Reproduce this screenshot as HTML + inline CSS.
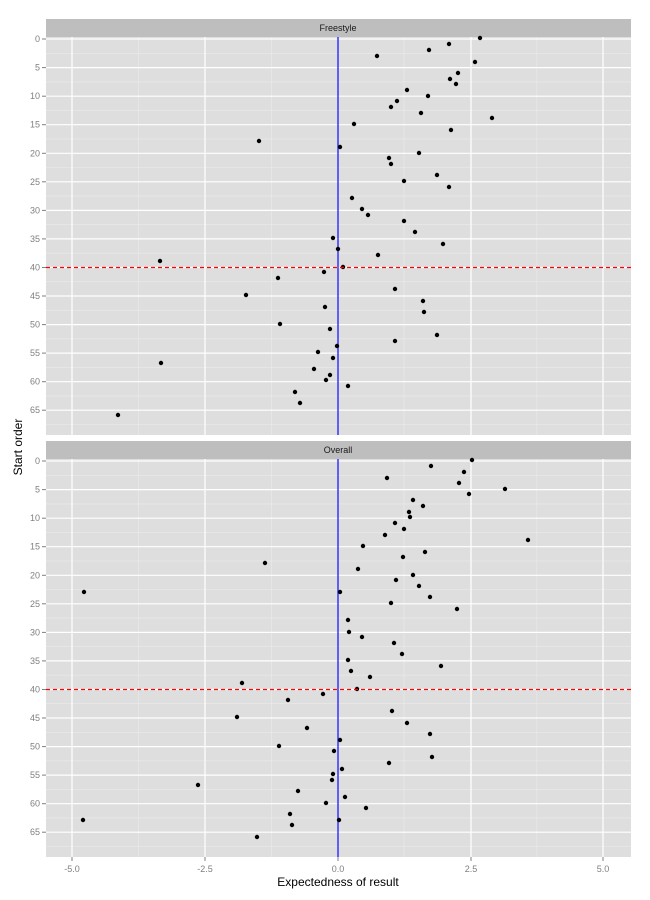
<!DOCTYPE html>
<html><head><meta charset="utf-8"><style>body{margin:0;background:#fff}svg{display:block}text{font-family:"Liberation Sans",sans-serif}</style></head><body>
<svg width="650" height="900" xmlns="http://www.w3.org/2000/svg">
<defs>
<g id="grid">
<rect x="46" y="0" width="585" height="398" fill="#dedede"/>
<g stroke="#ebebeb" stroke-width="0.6">
<line x1="46" x2="631" y1="16.3" y2="16.3"/><line x1="46" x2="631" y1="44.9" y2="44.9"/><line x1="46" x2="631" y1="73.4" y2="73.4"/><line x1="46" x2="631" y1="102" y2="102"/><line x1="46" x2="631" y1="130.5" y2="130.5"/><line x1="46" x2="631" y1="159.1" y2="159.1"/><line x1="46" x2="631" y1="187.6" y2="187.6"/><line x1="46" x2="631" y1="216.2" y2="216.2"/><line x1="46" x2="631" y1="244.7" y2="244.7"/><line x1="46" x2="631" y1="273.3" y2="273.3"/><line x1="46" x2="631" y1="301.8" y2="301.8"/><line x1="46" x2="631" y1="330.4" y2="330.4"/><line x1="46" x2="631" y1="358.9" y2="358.9"/><line x1="46" x2="631" y1="387.5" y2="387.5"/>
<line y1="0" y2="398" x1="138.5" x2="138.5"/><line y1="0" y2="398" x1="271.3" x2="271.3"/><line y1="0" y2="398" x1="404" x2="404"/><line y1="0" y2="398" x1="536.8" x2="536.8"/>
</g>
<g stroke="#fff" stroke-width="1.2">
<line x1="46" x2="631" y1="2" y2="2"/><line x1="46" x2="631" y1="30.6" y2="30.6"/><line x1="46" x2="631" y1="59.2" y2="59.2"/><line x1="46" x2="631" y1="87.7" y2="87.7"/><line x1="46" x2="631" y1="116.3" y2="116.3"/><line x1="46" x2="631" y1="144.8" y2="144.8"/><line x1="46" x2="631" y1="173.4" y2="173.4"/><line x1="46" x2="631" y1="201.9" y2="201.9"/><line x1="46" x2="631" y1="230.5" y2="230.5"/><line x1="46" x2="631" y1="259" y2="259"/><line x1="46" x2="631" y1="287.6" y2="287.6"/><line x1="46" x2="631" y1="316.1" y2="316.1"/><line x1="46" x2="631" y1="344.7" y2="344.7"/><line x1="46" x2="631" y1="373.2" y2="373.2"/>
<line y1="0" y2="398" x1="72" x2="72"/><line y1="0" y2="398" x1="205" x2="205"/><line y1="0" y2="398" x1="338" x2="338"/><line y1="0" y2="398" x1="471" x2="471"/><line y1="0" y2="398" x1="603" x2="603"/>
</g>
<line x1="338" x2="338" y1="0" y2="398" stroke="#3333ff" stroke-width="1.5"/>
<g font-size="9" fill="#7f7f7f" text-anchor="end">
<text x="40" y="5">0</text><text x="40" y="33.6">5</text><text x="40" y="62.2">10</text><text x="40" y="90.7">15</text><text x="40" y="119.3">20</text><text x="40" y="147.8">25</text><text x="40" y="176.4">30</text><text x="40" y="204.9">35</text><text x="40" y="233.5">40</text><text x="40" y="262">45</text><text x="40" y="290.6">50</text><text x="40" y="319.1">55</text><text x="40" y="347.7">60</text><text x="40" y="376.2">65</text>
</g>
<g stroke="#7f7f7f" stroke-width="1">
<line x1="42" x2="46" y1="2" y2="2"/><line x1="42" x2="46" y1="30.6" y2="30.6"/><line x1="42" x2="46" y1="59.2" y2="59.2"/><line x1="42" x2="46" y1="87.7" y2="87.7"/><line x1="42" x2="46" y1="116.3" y2="116.3"/><line x1="42" x2="46" y1="144.8" y2="144.8"/><line x1="42" x2="46" y1="173.4" y2="173.4"/><line x1="42" x2="46" y1="201.9" y2="201.9"/><line x1="42" x2="46" y1="230.5" y2="230.5"/><line x1="42" x2="46" y1="259" y2="259"/><line x1="42" x2="46" y1="287.6" y2="287.6"/><line x1="42" x2="46" y1="316.1" y2="316.1"/><line x1="42" x2="46" y1="344.7" y2="344.7"/><line x1="42" x2="46" y1="373.2" y2="373.2"/>
</g>
</g>
</defs>
<rect x="46" y="19" width="585" height="18" fill="#bebebe"/>
<text x="338" y="31" font-size="9" text-anchor="middle" fill="#1a1a1a">Freestyle</text>
<use href="#grid" transform="translate(0,37)"/>
<rect x="46" y="441" width="585" height="18" fill="#bebebe"/>
<text x="338" y="453" font-size="9" text-anchor="middle" fill="#1a1a1a">Overall</text>
<use href="#grid" transform="translate(0,459)"/>
<g fill="#000">
<circle cx="480" cy="38" r="2.2"/><circle cx="449" cy="44" r="2.2"/><circle cx="429" cy="50" r="2.2"/><circle cx="377" cy="56" r="2.2"/><circle cx="475" cy="62" r="2.2"/><circle cx="458" cy="73" r="2.2"/><circle cx="450" cy="79" r="2.2"/><circle cx="456" cy="84" r="2.2"/><circle cx="407" cy="90" r="2.2"/><circle cx="428" cy="96" r="2.2"/><circle cx="397" cy="101" r="2.2"/><circle cx="391" cy="107" r="2.2"/><circle cx="421" cy="113" r="2.2"/><circle cx="492" cy="118" r="2.2"/><circle cx="354" cy="124" r="2.2"/><circle cx="451" cy="130" r="2.2"/><circle cx="259" cy="141" r="2.2"/><circle cx="340" cy="147" r="2.2"/><circle cx="419" cy="153" r="2.2"/><circle cx="389" cy="158" r="2.2"/><circle cx="391" cy="164" r="2.2"/><circle cx="437" cy="175" r="2.2"/><circle cx="404" cy="181" r="2.2"/><circle cx="449" cy="187" r="2.2"/><circle cx="352" cy="198" r="2.2"/><circle cx="362" cy="209" r="2.2"/><circle cx="368" cy="215" r="2.2"/><circle cx="404" cy="221" r="2.2"/><circle cx="415" cy="232" r="2.2"/><circle cx="333" cy="238" r="2.2"/><circle cx="443" cy="244" r="2.2"/><circle cx="338" cy="249" r="2.2"/><circle cx="378" cy="255" r="2.2"/><circle cx="160" cy="261" r="2.2"/><circle cx="343" cy="267" r="2.2"/><circle cx="324" cy="272" r="2.2"/><circle cx="278" cy="278" r="2.2"/><circle cx="395" cy="289" r="2.2"/><circle cx="246" cy="295" r="2.2"/><circle cx="423" cy="301" r="2.2"/><circle cx="325" cy="307" r="2.2"/><circle cx="424" cy="312" r="2.2"/><circle cx="280" cy="324" r="2.2"/><circle cx="330" cy="329" r="2.2"/><circle cx="437" cy="335" r="2.2"/><circle cx="395" cy="341" r="2.2"/><circle cx="337" cy="346" r="2.2"/><circle cx="318" cy="352" r="2.2"/><circle cx="333" cy="358" r="2.2"/><circle cx="161" cy="363" r="2.2"/><circle cx="314" cy="369" r="2.2"/><circle cx="330" cy="375" r="2.2"/><circle cx="326" cy="380" r="2.2"/><circle cx="348" cy="386" r="2.2"/><circle cx="295" cy="392" r="2.2"/><circle cx="300" cy="403" r="2.2"/><circle cx="118" cy="415" r="2.2"/>
<circle cx="472" cy="460" r="2.2"/><circle cx="431" cy="466" r="2.2"/><circle cx="464" cy="472" r="2.2"/><circle cx="459" cy="483" r="2.2"/><circle cx="387" cy="478" r="2.2"/><circle cx="505" cy="489" r="2.2"/><circle cx="469" cy="494" r="2.2"/><circle cx="413" cy="500" r="2.2"/><circle cx="423" cy="506" r="2.2"/><circle cx="409" cy="512" r="2.2"/><circle cx="410" cy="517" r="2.2"/><circle cx="395" cy="523" r="2.2"/><circle cx="404" cy="529" r="2.2"/><circle cx="385" cy="535" r="2.2"/><circle cx="528" cy="540" r="2.2"/><circle cx="363" cy="546" r="2.2"/><circle cx="425" cy="552" r="2.2"/><circle cx="403" cy="557" r="2.2"/><circle cx="265" cy="563" r="2.2"/><circle cx="358" cy="569" r="2.2"/><circle cx="413" cy="575" r="2.2"/><circle cx="396" cy="580" r="2.2"/><circle cx="419" cy="586" r="2.2"/><circle cx="84" cy="592" r="2.2"/><circle cx="340" cy="592" r="2.2"/><circle cx="430" cy="597" r="2.2"/><circle cx="391" cy="603" r="2.2"/><circle cx="457" cy="609" r="2.2"/><circle cx="348" cy="620" r="2.2"/><circle cx="349" cy="632" r="2.2"/><circle cx="362" cy="637" r="2.2"/><circle cx="394" cy="643" r="2.2"/><circle cx="348" cy="660" r="2.2"/><circle cx="402" cy="654" r="2.2"/><circle cx="441" cy="666" r="2.2"/><circle cx="351" cy="671" r="2.2"/><circle cx="370" cy="677" r="2.2"/><circle cx="242" cy="683" r="2.2"/><circle cx="357" cy="689" r="2.2"/><circle cx="323" cy="694" r="2.2"/><circle cx="288" cy="700" r="2.2"/><circle cx="392" cy="711" r="2.2"/><circle cx="237" cy="717" r="2.2"/><circle cx="407" cy="723" r="2.2"/><circle cx="307" cy="728" r="2.2"/><circle cx="430" cy="734" r="2.2"/><circle cx="340" cy="740" r="2.2"/><circle cx="279" cy="746" r="2.2"/><circle cx="334" cy="751" r="2.2"/><circle cx="432" cy="757" r="2.2"/><circle cx="342" cy="769" r="2.2"/><circle cx="389" cy="763" r="2.2"/><circle cx="333" cy="774" r="2.2"/><circle cx="332" cy="780" r="2.2"/><circle cx="198" cy="785" r="2.2"/><circle cx="298" cy="791" r="2.2"/><circle cx="345" cy="797" r="2.2"/><circle cx="326" cy="803" r="2.2"/><circle cx="366" cy="808" r="2.2"/><circle cx="83" cy="820" r="2.2"/><circle cx="290" cy="814" r="2.2"/><circle cx="339" cy="820" r="2.2"/><circle cx="292" cy="825" r="2.2"/><circle cx="257" cy="837" r="2.2"/>
</g>
<line x1="46" x2="631" y1="267.5" y2="267.5" stroke="#ff0000" stroke-width="1.3" stroke-dasharray="4,3"/>
<line x1="46" x2="631" y1="689.5" y2="689.5" stroke="#ff0000" stroke-width="1.3" stroke-dasharray="4,3"/>
<g stroke="#7f7f7f" stroke-width="1">
<line x1="72" x2="72" y1="857" y2="861"/><line x1="205" x2="205" y1="857" y2="861"/><line x1="338" x2="338" y1="857" y2="861"/><line x1="471" x2="471" y1="857" y2="861"/><line x1="603" x2="603" y1="857" y2="861"/>
</g>
<g font-size="9" fill="#7f7f7f" text-anchor="middle">
<text x="72" y="872">-5.0</text><text x="205" y="872">-2.5</text><text x="338" y="872">0.0</text><text x="471" y="872">2.5</text><text x="603" y="872">5.0</text>
</g>
<text x="338" y="886" font-size="12" text-anchor="middle" fill="#000">Expectedness of result</text>
<text transform="translate(22,447) rotate(-90)" font-size="12" text-anchor="middle" fill="#000">Start order</text>
</svg>
</body></html>
